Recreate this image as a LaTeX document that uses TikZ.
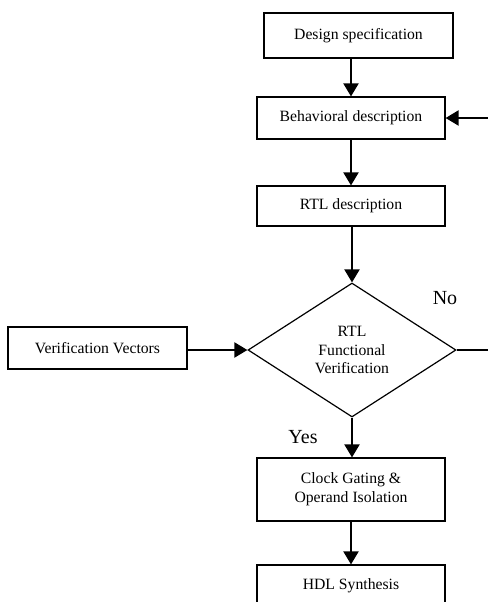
\documentclass[tikz,border=0pt]{standalone}
\usepackage{fontspec}
\setmainfont{Liberation Serif}
\usetikzlibrary{arrows.meta,positioning,shapes.geometric}

\tikzset{
  flowbox/.style={draw, line width=0.6pt, minimum width=94pt, minimum height=21pt,
                  inner sep=1pt, align=center, font=\fontsize{7.85}{9.4}\selectfont},
  decision/.style={diamond, draw, line width=0.6pt, minimum width=104pt, minimum height=67pt,
                   inner sep=0pt, align=center, font=\fontsize{7.85}{9.2}\selectfont},
  flowarrow/.style={line width=1.1pt, -{Triangle[length=6.5pt,width=7.5pt]}},
  answer/.style={font=\fontsize{10}{12}\selectfont}
}

\begin{document}
\begin{tikzpicture}[x=0.5pt, y=-0.5pt]
\useasboundingbox (0,0) rectangle (488,602);
% Main flow
\node[flowbox, minimum width=94.5pt, minimum height=22.5pt] (spec) at (358.5,35.5) {Design specification};
\node[flowbox] (behav) at (351,118) {Behavioral description};
\node[flowbox, minimum height=20pt] (rtl) at (351,206) {RTL description};
\node[decision] (verify) at (352,350) {RTL\\Functional\\Verification};
\node[flowbox, minimum width=89.5pt] (vectors) at (97.5,348) {Verification Vectors};
\node[flowbox, minimum height=31.5pt] (gating) at (351,489.5) {Clock Gating \&\\Operand Isolation};
\node[flowbox] (synth) at (351,586) {HDL Synthesis};

% Connectors
\draw[flowarrow] (behav.north |- spec.south) -- (behav.north);
\draw[flowarrow] (behav.south) -- (rtl.north);
\draw[flowarrow] (verify.north |- rtl.south) -- (verify.north);
\draw[flowarrow] (vectors.east |- verify.west) -- (verify.west);
\draw[flowarrow] (verify.south) -- (verify.south |- gating.north);
\draw[flowarrow] (gating.south) -- (synth.north);

% Feedback loop (runs off the right edge)
\coordinate (loopc) at (496,350);
\draw[flowarrow] (verify.east) -- (loopc) |- (behav.east);

% Branch labels
\node[answer] (no) at (445,298) {No};
\node[answer] (yes) at (303,437) {Yes};
\end{tikzpicture}
\end{document}
